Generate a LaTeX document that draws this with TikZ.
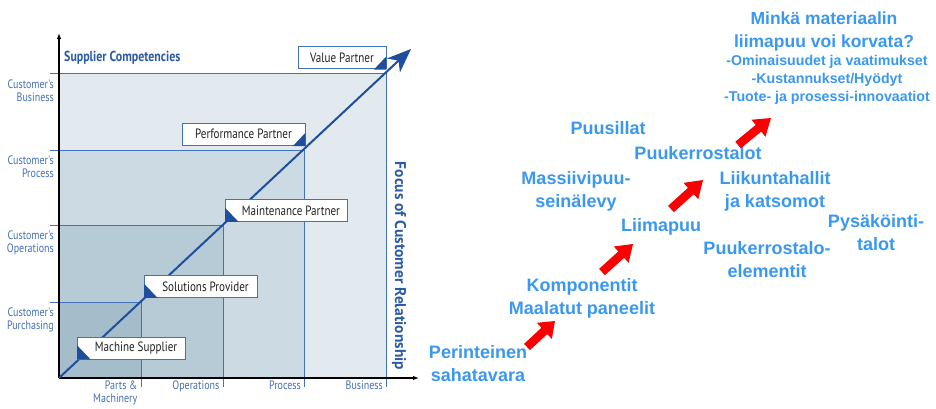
\documentclass[tikz,border=0pt]{standalone}
\usepackage{fontspec}
\setmainfont{Liberation Sans}
\newfontfamily\ptsans{PT Sans}
\newfontfamily\ptnarrow[FakeStretch=0.82]{PT Sans}
\usetikzlibrary{arrows.meta,calc}
\definecolor{fillA}{HTML}{E2EAEF}
\definecolor{fillB}{HTML}{CBDAE3}
\definecolor{fillC}{HTML}{B7CBD7}
\definecolor{fillD}{HTML}{A5BCCB}
\definecolor{gridblue}{HTML}{4272BA}
\definecolor{darkblue}{HTML}{1F4F9C}
\definecolor{labblue}{HTML}{4570B6}
\definecolor{titblue}{HTML}{2A5AA8}
\definecolor{boxtext}{HTML}{222222}
\definecolor{skyblue}{RGB}{58,152,240}
\definecolor{arrred}{RGB}{250,0,0}
\newcommand{\fatarrow}[2]{%
  \coordinate (h) at ($(#1)!0.62!(#2)$);
  \fill[arrred] ($(#1)!4.3pt!90:(#2)$) -- ($(h)!4.3pt!90:(#2)$) -- ($(h)!11pt!90:(#2)$) -- (#2)
    -- ($(h)!11pt!-90:(#2)$) -- ($(h)!4.3pt!-90:(#2)$) -- ($(#1)!4.3pt!-90:(#2)$) -- cycle;}
\begin{document}
\begin{tikzpicture}[x=1pt,y=-1pt,
  gridline/.style={draw=gridblue,line width=0.8pt},
  axisline/.style={draw=black,line width=1.1pt,-{Latex[length=6pt,width=4.5pt]}},
  diag/.style={draw=darkblue,line width=2pt,-{Stealth[length=24pt,width=19pt,inset=7pt]}},
  pbox/.style={draw=gridblue,fill=white,line width=0.8pt,minimum height=22pt,inner sep=0pt,
    font=\ptnarrow\fontsize{13.5}{14}\selectfont,text=boxtext},
  ylab/.style={font=\ptnarrow\fontsize{12.2}{13}\selectfont,text=labblue,align=right,anchor=east,inner sep=0pt},
  xlab/.style={font=\ptnarrow\fontsize{12.2}{13}\selectfont,text=labblue,align=right,anchor=north east,inner sep=0pt},
  tri/.style={fill=darkblue},
  fi/.style={font=\bfseries\fontsize{18}{23}\selectfont,text=skyblue,align=center,inner sep=0pt}]
\useasboundingbox (0,0) rectangle (936,408);
\fill[white] (0,0) rectangle (936,408);
% --- left chart fills
\fill[fillA] (59,73) rectangle (386,378);
\fill[fillB] (59,150) rectangle (304,378);
\fill[fillC] (59,225) rectangle (223,378);
\fill[fillD] (59,302) rectangle (141,378);
% grid lines
\draw[gridline] (50,73) -- (386,73) -- (386,387);
\draw[gridline] (50,150) -- (304,150) -- (304,387);
\draw[gridline] (50,225) -- (223,225) -- (223,387);
\draw[gridline] (50,302) -- (141,302) -- (141,387);
% axes
\coordinate (O) at (59,378);
\coordinate (ytop) at (59,33);
\coordinate (xend) at (419,378);
\draw[axisline] (O) -- (ytop);
\draw[axisline] (O) -- (xend);
% diagonal
\coordinate (dtip) at (411,49);
\draw[diag] (O) -- (dtip);
% boxes
\node[pbox,minimum width=88pt] (vp) at (342,57.5) {Value Partner\hspace{6pt}};
\node[pbox,minimum width=123pt] (pp) at (243.5,134) {Performance Partner\hspace{6pt}};
\node[pbox,minimum width=122pt] (mp) at (286,210.5) {\hspace{10pt}Maintenance Partner};
\node[pbox,minimum width=113pt] (sp) at (200.5,286.5) {\hspace{10pt}Solutions Provider};
\node[pbox,minimum width=108pt] (ms) at (131,348) {\hspace{10pt}Machine Supplier};
\foreach \b in {vp,pp}{\fill[tri] ([yshift=-0.6pt]\b.south east) -- ([yshift=12.5pt]\b.south east) -- ([xshift=-12.5pt,yshift=-0.6pt]\b.south east) -- cycle;}
\foreach \b in {mp,sp,ms}{\fill[tri] ([xshift=0.6pt]\b.south west) -- ([xshift=0.6pt,yshift=14pt]\b.south west) -- ([xshift=14pt]\b.south west) -- cycle;}
% axis labels
\node[font=\ptnarrow\bfseries\fontsize{14.5}{15}\selectfont,text=titblue,anchor=west,inner sep=0pt] (sc) at (64,58) {Supplier Competencies};
\node[font=\ptsans\bfseries\fontsize{15.5}{16}\selectfont,text=titblue,rotate=-90,inner sep=0pt] (fc) at (399,266) {Focus of Customer Relationship};
\node[ylab] (l1) at (54,91) {Customer's\\Business};
\node[ylab] (l2) at (54,167) {Customer's\\Process};
\node[ylab] (l3) at (54,242.5) {Customer's\\Operations};
\node[ylab] (l4) at (54,319.5) {Customer's\\Purchasing};
\node[xlab] (b1) at (137.5,381) {Parts \&\\Machinery};
\node[xlab] (b2) at (219.5,381) {Operations};
\node[xlab] (b3) at (301,381) {Process};
\node[xlab] (b4) at (383,381) {Business};
% --- right side
\node[fi,font=\bfseries\fontsize{17.5}{23}\selectfont] (q) at (824,31) {Minkä materiaalin\\liimapuu voi korvata?};
\node[fi,font=\bfseries\fontsize{14.2}{18}\selectfont] (ql) at (827,80) {-Ominaisuudet ja vaatimukset\\-Kustannukset/Hyödyt\\-Tuote- ja prosessi-innovaatiot};
\node[fi] (t1) at (608,128) {Puusillat};
\node[fi] (t2) at (698,153) {Puukerrostalot};
\node[fi] (t3) at (576,191.5) {Massiivipuu-\\seinälevy};
\node[fi] (t4) at (775,191.5) {Liikuntahallit\\ja katsomot};
\node[fi] (t5) at (661,227) {Liimapuu};
\node[fi] (t6) at (876,232.5) {Pysäköinti-\\talot};
\node[fi] (t7) at (767,259.5) {Puukerrostalo-\\elementit};
\node[fi] (t8) at (582,298) {Komponentit\\Maalatut paneelit};
\node[fi] (t9) at (478,364) {Perinteinen\\sahatavara};
% red arrows
\coordinate (a1s) at (527,347); \coordinate (a1e) at (555,321);
\coordinate (a2s) at (602,272); \coordinate (a2e) at (633,244);
\coordinate (a3s) at (671,209); \coordinate (a3e) at (703,180);
\coordinate (a4s) at (738,145); \coordinate (a4e) at (771,118);
\fatarrow{a1s}{a1e}
\fatarrow{a2s}{a2e}
\fatarrow{a3s}{a3e}
\fatarrow{a4s}{a4e}
\end{tikzpicture}
\end{document}
